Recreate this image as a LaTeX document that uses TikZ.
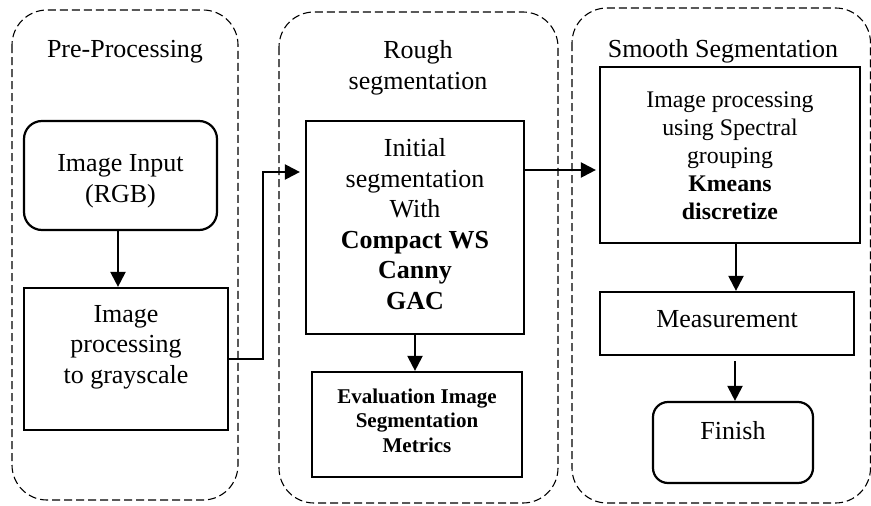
\documentclass[tikz,border=0pt]{standalone}
\usepackage{fontspec}
\setmainfont{Liberation Serif}
\usetikzlibrary{arrows.meta}
\begin{document}
\begin{tikzpicture}[x=1pt,y=-1pt,
  group/.style={draw,dash pattern=on 8pt off 4pt,line width=1.1pt,rounded corners=35pt},
  box/.style={draw,line width=2.2pt,inner sep=0pt},
  rbox/.style={box,rounded corners=18pt},
  txt/.style={inner sep=0pt,anchor=base,align=center,font=\fontsize{26}{30.5}\selectfont},
  smalltxt/.style={inner sep=0pt,anchor=base,align=center,font=\fontsize{21}{24.5}\selectfont\bfseries},
  midtxt/.style={inner sep=0pt,anchor=base,align=center,font=\fontsize{23.8}{27.8}\selectfont},
  arr/.style={line width=2.2pt,-{Triangle[length=15pt,width=15pt]}}]
\useasboundingbox (0,0) rectangle (871,506);
% containers
\draw[group] (12,10) rectangle (238,500);
\draw[group] (279,12) rectangle (558,503);
\draw[group] (572,8) rectangle (870.5,503);
\node[txt] (lpre) at (125,57) {Pre-Processing};
\node[txt] (lrough) at (418,89) {Rough\\segmentation};
\node[txt] (lsmooth) at (723,57) {Smooth Segmentation};
% boxes
\node[rbox,minimum width=193pt,minimum height=109pt] (inp) at (120.5,175.5) {};
\node[box,minimum width=204pt,minimum height=142pt] (gray) at (126,359) {};
\node[box,minimum width=218pt,minimum height=213pt] (init) at (415,227.5) {};
\node[box,minimum width=210pt,minimum height=105pt] (eval) at (417,424.5) {};
\node[box,minimum width=260pt,minimum height=176pt] (spec) at (730,155) {};
\node[box,minimum width=254pt,minimum height=63pt] (meas) at (727,323.5) {};
\node[rbox,rounded corners=15pt,minimum width=160pt,minimum height=81pt] (fin) at (733,442.5) {};
% texts
\node[txt] (tinp) at (120.5,202) {Image Input\\(RGB)};
\node[txt] (tgray) at (126,383) {Image\\processing\\to grayscale};
\node[txt] (tinit) at (415,309) {Initial\\segmentation\\With\\\textbf{Compact WS}\\\textbf{Canny}\\\textbf{GAC}};
\node[smalltxt] (teval) at (417,452) {Evaluation Image\\Segmentation\\Metrics};
\node[midtxt] (tspec) at (730,219) {Image processing\\using Spectral\\grouping\\\textbf{Kmeans}\\\textbf{discretize}};
\node[txt] (tmeas) at (727,327) {Measurement};
\node[txt] (tfin) at (733,439) {Finish};
% connectors
\coordinate (c1) at (263,172);
\draw[arr] (inp.south -| 118,0) -- (gray.north -| 118,0);
\draw[arr] (gray.east) -| (c1) -- ([xshift=-5pt]init.west |- c1);
\draw[arr] (init.south) -- (init.south |- eval.north);
\draw[arr] ([yshift=57.5pt]init.east) -- ([yshift=57.5pt,xshift=-3pt]spec.west |- init.east);
\draw[arr] ([xshift=6pt]spec.south) -- ([xshift=6pt]spec.south |- meas.north);
\draw[arr] ([xshift=8pt,yshift=-5pt]meas.south) -- ([xshift=8pt]meas.south |- fin.north);
\end{tikzpicture}
\end{document}
